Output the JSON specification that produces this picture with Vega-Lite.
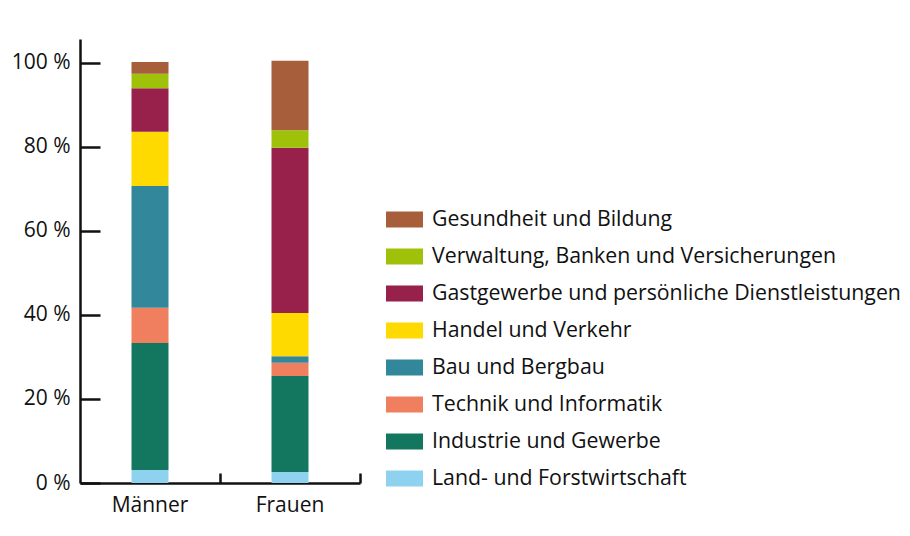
{
  "$schema": "https://vega.github.io/schema/vega-lite/v6.json",
  "autosize": "none",
  "width": 280,
  "height": 444,
  "padding": {"left": 80, "top": 39, "right": 550, "bottom": 53},
  "background": "white",
  "config": {
    "view": {"stroke": null},
    "font": "Open Sans",
    "axis": {"labelFont": "Open Sans", "labelFontSize": 21, "labelFontWeight": 500, "labelColor": "#111", "domainColor": "#111", "tickColor": "#111", "domainWidth": 2.5, "tickWidth": 2.5, "grid": false, "title": null},
    "legend": {"labelFont": "Open Sans", "labelFontSize": 21.3, "labelFontWeight": 500, "labelColor": "#111"}
  },
  "data": {"values": [
    {"group": "Männer", "sector": "Land- und Forstwirtschaft", "rank": 1, "value": 3.1},
    {"group": "Männer", "sector": "Industrie und Gewerbe", "rank": 2, "value": 30.2},
    {"group": "Männer", "sector": "Technik und Informatik", "rank": 3, "value": 8.4},
    {"group": "Männer", "sector": "Bau und Bergbau", "rank": 4, "value": 29.0},
    {"group": "Männer", "sector": "Handel und Verkehr", "rank": 5, "value": 12.9},
    {"group": "Männer", "sector": "Gastgewerbe und persönliche Dienstleistungen", "rank": 6, "value": 10.4},
    {"group": "Männer", "sector": "Verwaltung, Banken und Versicherungen", "rank": 7, "value": 3.4},
    {"group": "Männer", "sector": "Gesundheit und Bildung", "rank": 8, "value": 2.8},
    {"group": "Frauen", "sector": "Land- und Forstwirtschaft", "rank": 1, "value": 2.6},
    {"group": "Frauen", "sector": "Industrie und Gewerbe", "rank": 2, "value": 22.9},
    {"group": "Frauen", "sector": "Technik und Informatik", "rank": 3, "value": 3.1},
    {"group": "Frauen", "sector": "Bau und Bergbau", "rank": 4, "value": 1.6},
    {"group": "Frauen", "sector": "Handel und Verkehr", "rank": 5, "value": 10.3},
    {"group": "Frauen", "sector": "Gastgewerbe und persönliche Dienstleistungen", "rank": 6, "value": 39.3},
    {"group": "Frauen", "sector": "Verwaltung, Banken und Versicherungen", "rank": 7, "value": 4.2},
    {"group": "Frauen", "sector": "Gesundheit und Bildung", "rank": 8, "value": 16.5}
  ]},
  "mark": {"type": "bar", "width": 37},
  "encoding": {
    "x": {
      "field": "group", "type": "nominal", "sort": ["Männer", "Frauen"],
      "scale": {"paddingInner": 0, "paddingOuter": 0},
      "axis": {"labelAngle": 0, "tickSize": -10, "bandPosition": 1, "labelPadding": 21}
    },
    "y": {
      "field": "value", "type": "quantitative", "stack": "zero",
      "scale": {"domain": [0, 105.7], "nice": false},
      "axis": {"values": [0, 20, 40, 60, 80, 100], "tickSize": -20, "labelPadding": 30, "labelExpr": "datum.value + ' %'"}
    },
    "color": {
      "field": "sector", "type": "nominal",
      "scale": {
        "domain": ["Gesundheit und Bildung", "Verwaltung, Banken und Versicherungen", "Gastgewerbe und persönliche Dienstleistungen", "Handel und Verkehr", "Bau und Bergbau", "Technik und Informatik", "Industrie und Gewerbe", "Land- und Forstwirtschaft"],
        "range": ["#A65E3B", "#A0C10A", "#98214B", "#FFDA00", "#33879B", "#F07F5F", "#12775E", "#8ED2EF"]
      },
      "legend": {
        "title": null, "orient": "none", "legendX": 306, "legendY": 162, "padding": 0,
        "symbolType": "M-1,-0.432L1,-0.432L1,0.432L-1,0.432Z", "symbolSize": 1369,
        "symbolStrokeWidth": 0, "rowPadding": 8, "labelOffset": 9, "labelLimit": 600
      }
    },
    "order": {"field": "rank", "type": "quantitative"}
  }
}
